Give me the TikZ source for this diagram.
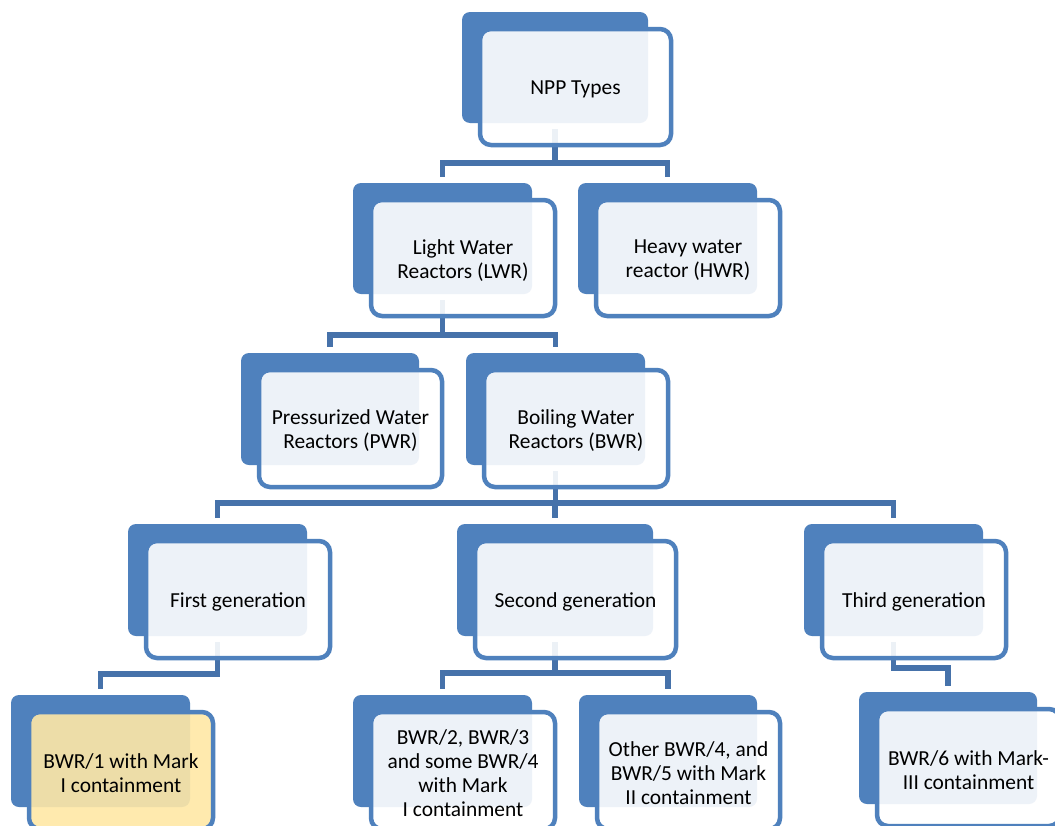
\documentclass[tikz,border=0pt]{standalone}
\usepackage{fontspec}
\setmainfont{Carlito}
\usetikzlibrary{backgrounds}
\definecolor{boxblue}{HTML}{4F81BD}
\definecolor{connblue}{HTML}{4672AA}
\definecolor{hiyellow}{HTML}{FFE8A6}
\tikzset{
  backbox/.style={rectangle, rounded corners=8pt, fill=boxblue, inner sep=0pt, outer sep=0pt},
  frontbox/.style={rectangle, rounded corners=11pt, draw=boxblue, line width=4.5pt,
    fill opacity=0.9, inner sep=0pt, outer sep=0pt},
  boxtext/.style={inner sep=0pt, align=center, text=black, font=\fontsize{21.4}{24}\selectfont},
  conn/.style={draw=connblue, line width=5.5pt},
}
% #1 fill, #2 name, #3 x1, #4 y1, #5 x2, #6 y2, #7 text
\newcommand\nbox[7][white]{%
  \node[backbox, minimum width={(#5-#3)*1pt}, minimum height={(#6-#4)*1pt}]
    (#2-b) at ({(#3+#5)/2},{(#4+#6)/2}) {};
  \node[frontbox, fill=#1, minimum width={(#5-#3+5)*1pt}, minimum height={(#6-#4+5)*1pt}]
    (#2) at ({(#3+#5)/2+20.5},{(#4+#6)/2+19.5}) {};
  \node[boxtext] (#2-t) at ([yshift=-2.5pt]#2.center) {#7};
  \coordinate (#2-o) at ([yshift=-6pt]#2-b.south);
  \coordinate (#2-i) at ([yshift=6pt]#2-b.north);
}
\begin{document}
\begin{tikzpicture}[x=1pt,y=-1pt]
\useasboundingbox (0,0) rectangle (1055,825);
\clip (0,0) rectangle (1055,825);

\nbox{npp}{462}{12}{648}{123}{NPP Types}
\nbox{lwr}{353}{183}{532}{294}{Light Water\\Reactors (LWR)}
\nbox{hwr}{578}{183}{757}{294}{Heavy water\\reactor (HWR)}
\nbox{pwr}{241}{353}{419}{465}{Pressurized Water\\Reactors (PWR)}
\nbox{bwr}{466}{353}{645}{465}{Boiling Water\\Reactors (BWR)}
\nbox{gen1}{128}{524}{307}{636}{First generation}
\nbox{gen2}{457}{524}{653}{636}{Second generation}
\nbox{gen3}{804}{524}{983}{636}{Third generation}
\nbox[hiyellow]{bwr1}{11}{695}{190}{807}{BWR/1 with Mark\\I containment}
\nbox{bwr2}{353}{695}{532}{807}{BWR/2, BWR/3\\and some BWR/4\\with Mark\\I containment}
\nbox{bwr4}{579}{695}{757}{807}{Other BWR/4, and\\BWR/5 with Mark\\II containment}
\nbox{bwr6}{859}{692}{1037}{804}{BWR/6 with Mark-\\III containment}

\begin{scope}[on background layer]
  \fill[white] (0,0) rectangle (1055,825);
  \coordinate (m1) at (0,163);
  \coordinate (m2) at (0,335);
  \coordinate (m3) at (0,503);
  \coordinate (m4a) at (0,674);
  \coordinate (m4b) at (0,673);
  \coordinate (m4c) at (0,668);
  \draw[conn] (npp-o) -- (npp-o |- m1) -| (lwr-i);
  \draw[conn] (npp-o) -- (npp-o |- m1) -| (hwr-i);
  \draw[conn] (lwr-o) -- (lwr-o |- m2) -| (pwr-i);
  \draw[conn] (lwr-o) -- (lwr-o |- m2) -| (bwr-i);
  \draw[conn] (bwr-o) -- (bwr-o |- m3) -| (gen1-i);
  \draw[conn] (bwr-o) -- (bwr-o |- m3) -| (gen2-i);
  \draw[conn] (bwr-o) -- (bwr-o |- m3) -| (gen3-i);
  \draw[conn] (gen1-o) -- (gen1-o |- m4a) -| (bwr1-i);
  \draw[conn] (gen2-o) -- (gen2-o |- m4b) -| (bwr2-i);
  \draw[conn] (gen2-o) -- (gen2-o |- m4b) -| (bwr4-i);
  \draw[conn] (gen3-o) -- (gen3-o |- m4c) -| (bwr6-i);
\end{scope}
\end{tikzpicture}
\end{document}
